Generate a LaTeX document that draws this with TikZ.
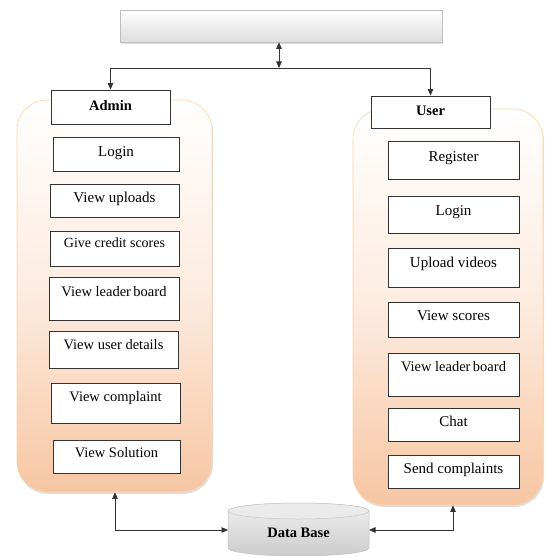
\documentclass[tikz,border=0pt]{standalone}
\usepackage{fontspec}
\setmainfont{Liberation Serif}
\usetikzlibrary{arrows.meta,shadows,calc}
\begin{document}
\begin{tikzpicture}[x=1pt,y=1pt,
  panel/.style={draw=orange!35!white, line width=0.6pt, rounded corners=30pt,
    top color=white, bottom color=peach, middle color=peachmid,
    drop shadow={shadow xshift=1pt, shadow yshift=-2pt, opacity=0.25}},
  box/.style={draw=black!80, line width=0.8pt, fill=white, inner sep=0pt},
  lbl/.style={font=\fontsize{15}{16}\selectfont, inner sep=0pt, text height=10pt, text depth=3pt},
  blbl/.style={lbl, font=\fontsize{14.5}{16}\selectfont\bfseries},
  conn/.style={draw=black!80, line width=0.9pt},
  tip/.style={-{Triangle[length=6.5pt,width=5.5pt]}},
  dtip/.style={{Triangle[length=6.5pt,width=5.5pt]}-{Triangle[length=6.5pt,width=5.5pt]}}
]
\definecolor{peach}{HTML}{F7C6A3}
\definecolor{peachmid}{HTML}{FDEBDF}
\useasboundingbox (0,0) rectangle (548,-556);

% top box
\node[draw=black!25, line width=0.6pt, top color=white, bottom color=black!13, minimum width=322pt, minimum height=32pt, inner sep=0pt,
  drop shadow={shadow xshift=1pt, shadow yshift=-2pt, opacity=0.25}] (tb) at (281,-26) {};

% panels
\node[panel, minimum width=195pt, minimum height=392pt] (lp) at (114.5,-296) {};
\node[panel, minimum width=190pt, minimum height=396pt] (rp) at (448,-307) {};

% admin side
\node[box, minimum width=119pt, minimum height=34pt] (admin) at (110.5,-107) {};
\node[blbl] (tadmin) at (110.5,-107) {Admin};
\node[box, minimum width=126pt, minimum height=34pt] (l1) at (116,-154) {};
\node[lbl] (t1) at (116,-153) {Login};
\node[box, minimum width=129pt, minimum height=33pt] (l2) at (114.5,-200.5) {};
\node[lbl] (t2) at (114.5,-199) {View uploads};
\node[box, minimum width=129pt, minimum height=35pt] (l3) at (114.5,-248.5) {};
\node[lbl, font=\fontsize{14}{16}\selectfont] (t3) at (114.5,-244) {Give credit scores};
\node[box, minimum width=130pt, minimum height=43pt] (l4) at (114,-298.5) {};
\node[lbl, font=\fontsize{14.5}{16}\selectfont] (t4) at (114,-292.5) {View leader\,board};
\node[box, minimum width=129pt, minimum height=37pt] (l5) at (113.5,-349.5) {};
\node[lbl, font=\fontsize{14.5}{16}\selectfont] (t5) at (113.5,-345.5) {View user details};
\node[box, minimum width=129pt, minimum height=40pt] (l6) at (115.5,-403) {};
\node[lbl, font=\fontsize{14.5}{16}\selectfont] (t6) at (115.5,-397.5) {View complaint};
\node[box, minimum width=127pt, minimum height=33pt] (l7) at (116.5,-456.5) {};
\node[lbl, font=\fontsize{14.5}{16}\selectfont] (t7) at (116.5,-453.5) {View Solution};

% user side
\node[box, minimum width=119pt, minimum height=32pt] (user) at (430.5,-112) {};
\node[blbl] (tuser) at (430.5,-112) {User};
\node[box, minimum width=131pt, minimum height=38pt] (r1) at (453.5,-160) {};
\node[lbl] (u1) at (453.5,-157.5) {Register};
\node[box, minimum width=131pt, minimum height=37pt] (r2) at (453.5,-214.5) {};
\node[lbl] (u2) at (453.5,-211.5) {Login};
\node[box, minimum width=131pt, minimum height=39pt] (r3) at (453.5,-267.5) {};
\node[lbl] (u3) at (453.5,-263.5) {Upload videos};
\node[box, minimum width=131pt, minimum height=35pt] (r4) at (453.5,-319.5) {};
\node[lbl] (u4) at (453.5,-316.5) {View scores};
\node[box, minimum width=131pt, minimum height=43pt] (r5) at (453.5,-374.5) {};
\node[lbl, font=\fontsize{14.5}{16}\selectfont] (u5) at (453.5,-367.5) {View leader\,board};
\node[box, minimum width=131pt, minimum height=33pt] (r6) at (453.5,-424.5) {};
\node[lbl] (u6) at (453.5,-422.5) {Chat};
\node[box, minimum width=131pt, minimum height=33pt] (r7) at (453.5,-471.5) {};
\node[lbl] (u7) at (453.5,-470) {Send complaints};

% database cylinder
\path[top color=black!6, bottom color=black!20, draw=black!25, line width=0.5pt]
  (228,-511) -- (228,-548) arc[start angle=180, end angle=360, x radius=70.5pt, y radius=8pt]
  -- (369,-511) arc[start angle=0, end angle=180, x radius=70.5pt, y radius=8pt] -- cycle;
\path[fill=black!8, draw=black!22, line width=0.5pt] (298.5,-511) ellipse[x radius=70.5pt, y radius=8pt];
\node[font=\fontsize{14.5}{16}\selectfont\bfseries, inner sep=0pt] (db) at (298.5,-533) {Data Base};
\coordinate (dbl) at (228,-530);
\coordinate (dbr) at (369,-530);

% connectors
\coordinate (j) at (279,-68);
\draw[conn, dtip] ([xshift=-2pt]tb.south) -- (j);
\draw[conn, tip] (j) -| (admin.north);
\draw[conn, tip] (j) -| (user.north);
\draw[conn, dtip] ([xshift=0.5pt]lp.south) |- (dbl);
\draw[conn, dtip] ([xshift=5pt]rp.south) |- (dbr);
\end{tikzpicture}
\end{document}
